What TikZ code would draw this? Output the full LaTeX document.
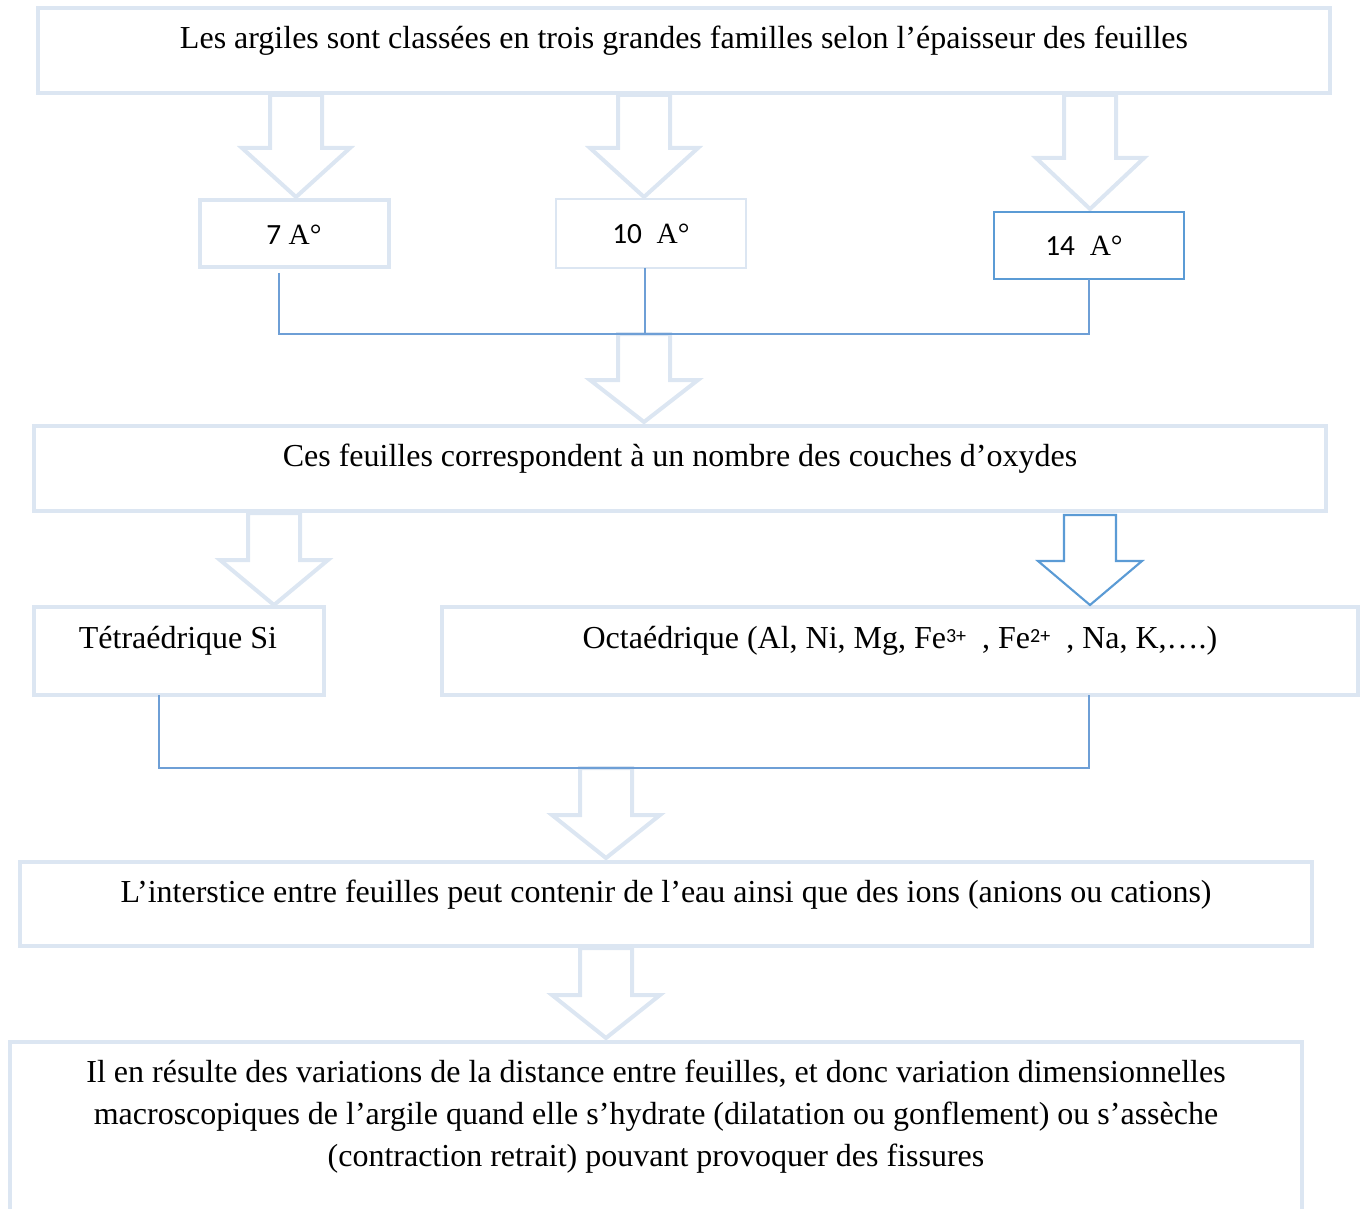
\documentclass[tikz,border=0pt]{standalone}
\usepackage{fontspec}
\setmainfont{Liberation Serif}
\newfontfamily\numfont{Carlito}
\definecolor{lightb}{HTML}{DCE6F2}
\definecolor{blueb}{HTML}{5B9BD5}
\definecolor{linec}{HTML}{6E9FD6}
\newdimen\pxu \pxu=0.75pt
\newcommand\blockarr[5]{%
  \draw[#1] (#2-26,#3) -- (#2-26,#4) -- (#2-54,#4) -- (#2,#5) -- (#2+54,#4) -- (#2+26,#4) -- (#2+26,#3) -- cycle;}
\newcommand\supx[1]{\raisebox{0.45ex}{\numfont\fontsize{15}{15}\selectfont #1}}
\begin{document}
\begin{tikzpicture}[x=0.75pt,y=-0.75pt,
  lbox/.style={draw=lightb, line width=3pt, anchor=north west, inner sep=0pt, outer sep=0pt},
  thinbox/.style={lbox, line width=1.5pt},
  bbox/.style={draw=blueb, line width=1.8pt, anchor=north west, inner sep=0pt, outer sep=0pt},
  txt/.style={font=\fontsize{24}{31.5}\selectfont, inner sep=0pt, align=center},
  smalltxt/.style={font=\fontsize{22}{24}\selectfont, inner sep=0pt},
  conn/.style={draw=linec, line width=0.9pt},
  larrow/.style={draw=lightb, line width=3pt, line join=miter},
  barrow/.style={draw=blueb, line width=1.6pt, line join=miter}]
\useasboundingbox (0,0) rectangle (1365,1209);
% block arrows
\blockarr{larrow}{296}{95}{148}{197}
\blockarr{larrow}{644}{95}{148}{197}
\blockarr{larrow}{1090}{95}{158}{209}
\blockarr{larrow}{644}{334}{380}{422}
\blockarr{larrow}{274}{513}{560}{605}
\blockarr{larrow}{606}{768}{815}{858}
\blockarr{larrow}{606}{948}{995}{1038}
% boxes
\node[lbox, minimum width=1292\pxu, minimum height=85\pxu] (b1) at (38,8) {};
\node[lbox, minimum width=189\pxu, minimum height=67\pxu] (b7) at (200,200) {};
\node[thinbox, minimum width=190\pxu, minimum height=69\pxu] (b10) at (556,199) {};
\node[bbox, minimum width=190\pxu, minimum height=67\pxu] (b14) at (994,212) {};
\node[lbox, minimum width=1292\pxu, minimum height=85\pxu] (b2) at (34,426) {};
\node[lbox, minimum width=290\pxu, minimum height=88\pxu] (bT) at (34,607) {};
\node[lbox, minimum width=916\pxu, minimum height=88\pxu] (bO) at (442,607) {};
\node[lbox, minimum width=1292\pxu, minimum height=84\pxu] (b3) at (20,862) {};
\node[lbox, minimum width=1292\pxu, minimum height=200\pxu] (b4) at (10,1042) {};
% blue arrow
\draw[barrow] (1064,515) -- (1064,561) -- (1038,561) -- (1090,605) -- (1142,561) -- (1116,561) -- (1116,515) -- cycle;
% texts
\node[txt] (t1) at (684,41) {Les argiles sont classées en trois grandes familles selon l’épaisseur des feuilles};
\node[smalltxt] (t7) at (294,235) {{\numfont 7} A°};
\node[smalltxt] (t10) at (651,234) {{\numfont 10}\ \ A°};
\node[smalltxt] (t14) at (1084,246) {{\numfont 14}\ \ A°};
\node[txt] (t2) at (680,459) {Ces feuilles correspondent à un nombre des couches d’oxydes};
\node[txt] (tT) at (178,641) {Tétraédrique Si};
\node[txt] (tO) at (900,641) {Octaédrique (Al, Ni, Mg, Fe\supx{3+}\ \ , Fe\supx{2+}\ \ , Na, K,\dots.)};
\node[txt] (t3) at (666,895) {L’interstice entre feuilles peut contenir de l’eau ainsi que des ions (anions ou cations)};
\node[txt, anchor=north] (t4) at (656,1060) {Il en résulte des variations de la distance entre feuilles, et donc variation dimensionnelles\\macroscopiques de l’argile quand elle s’hydrate (dilatation ou gonflement) ou s’assèche\\(contraction retrait) pouvant provoquer des fissures};
% connectors
\coordinate (j7) at (279,334);
\coordinate (j10) at (645,334);
\coordinate (j14) at (1089,334);
\draw[conn] ([yshift=-6\pxu]b7.south -| j7) -- (j7) -- (j14) -- (b14.south -| j14);
\draw[conn] (b10.south -| j10) -- (j10);
\coordinate (jT) at (159,768);
\coordinate (jO) at (1089,768);
\draw[conn] (bT.south -| jT) -- (jT) -- (jO) -- (bO.south -| jO);
\end{tikzpicture}
\end{document}
